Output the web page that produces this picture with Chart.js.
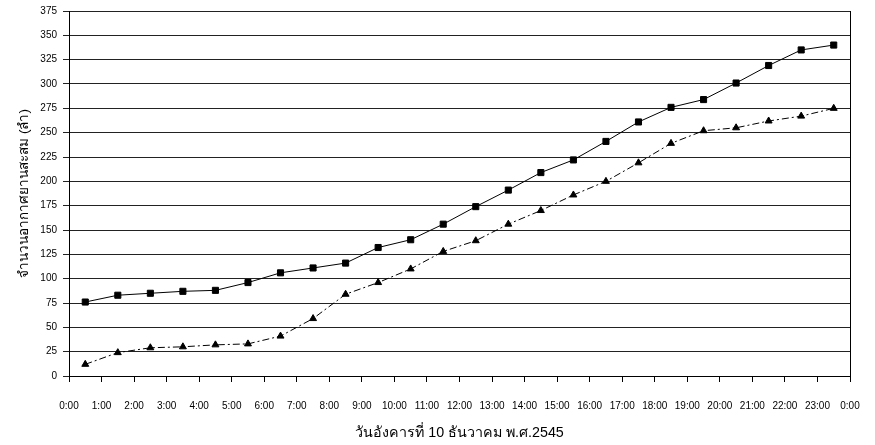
<!DOCTYPE html>
<html>
<head>
<meta charset="utf-8">
<script src="https://cdn.jsdelivr.net/npm/chart.js@4"></script>
<style>
  html, body { margin: 0; padding: 0; background: #fff; }
  #wrap { width: 875px; height: 445px; }
</style>
</head>
<body>
<div id="wrap"><canvas id="aircraftChart"></canvas></div>
<script>
// times of each observation (half-past each hour)
const times = ["0:30", "1:30", "2:30", "3:30", "4:30", "5:30", "6:30", "7:30", "8:30", "9:30", "10:30", "11:30",
               "12:30", "13:30", "14:30", "15:30", "16:30", "17:30", "18:30", "19:30", "20:30", "21:30", "22:30", "23:30"];
// cumulative aircraft counts
const seriesSquare = [76, 83, 85, 87, 88, 96, 106, 111, 116, 132, 140, 156, 174, 191, 209, 222, 241, 261, 276, 284, 301, 319, 335, 340];
const seriesTriangle = [12, 24, 29, 30, 32, 33, 41, 59, 84, 96, 110, 128, 139, 156, 170, 186, 200, 219, 239, 252, 255, 262, 267, 275];

const yTitle = "จำนวนอากาศยานสะสม (ลำ)";
const xTitle = "วันอังคารที่ 10 ธันวาคม พ.ศ.2545";

const toHours = t => {
  const [h, m] = t.split(":").map(Number);
  return h + m / 60;
};
const points = arr => arr.map((v, i) => ({ x: toHours(times[i]), y: v }));

const fontFamily = "'Liberation Sans', Arial, 'DejaVu Sans', sans-serif";

// border on the right of the plot area, like the original
const frame = {
  id: "frame",
  afterDraw(chart) {
    const { ctx, chartArea: a } = chart;
    ctx.save();
    ctx.strokeStyle = "#000";
    ctx.lineWidth = 1;
    ctx.beginPath();
    ctx.moveTo(Math.round(a.right) + 0.5, a.top);
    ctx.lineTo(Math.round(a.right) + 0.5, a.bottom);
    ctx.stroke();
    ctx.restore();
  }
};

new Chart(document.getElementById("aircraftChart"), {
  type: "line",
  data: {
    datasets: [
      {
        label: "square",
        data: points(seriesSquare),
        borderColor: "#000",
        backgroundColor: "#000",
        borderWidth: 1,
        pointStyle: "rect",
        pointRadius: 4.3,
        pointHoverRadius: 4.3,
        tension: 0
      },
      {
        label: "triangle",
        data: points(seriesTriangle),
        borderColor: "#000",
        backgroundColor: "#000",
        borderWidth: 1,
        borderDash: [7, 3, 2, 3],
        pointStyle: "triangle",
        pointRadius: 4,
        pointHoverRadius: 4,
        tension: 0
      }
    ]
  },
  options: {
    responsive: true,
    maintainAspectRatio: false,
    animation: false,
    layout: { padding: { top: 11, right: 25, left: 0, bottom: 0 } },
    plugins: {
      legend: { display: false },
      tooltip: { enabled: false }
    },
    scales: {
      x: {
        type: "linear",
        min: 0,
        max: 24,
        afterFit: s => { s.height = 69; s.paddingLeft = 0; s.paddingRight = 0; },
        border: { color: "#000", width: 1 },
        grid: { drawOnChartArea: false, drawTicks: true, tickLength: 6, color: "#000" },
        ticks: {
          stepSize: 1,
          padding: 18,
          maxRotation: 0,
          autoSkip: false,
          color: "#000",
          font: { family: fontFamily, size: 10 },
          callback: v => (v % 24) + ":00"
        },
        title: {
          display: true,
          text: xTitle,
          color: "#000",
          font: { family: fontFamily, size: 14.3 },
          padding: { top: 0, bottom: 3 }
        }
      },
      y: {
        min: 0,
        max: 375,
        afterFit: s => { s.width = 69; s.paddingTop = 0; s.paddingBottom = 0; },
        border: { color: "#000", width: 1 },
        grid: { color: "#222", tickLength: 6 },
        ticks: {
          stepSize: 25,
          padding: 6,
          color: "#000",
          font: { family: fontFamily, size: 10 }
        },
        title: {
          display: true,
          text: yTitle,
          color: "#000",
          font: { family: fontFamily, size: 13.5 },
          padding: { top: 16, bottom: 0 }
        }
      }
    }
  },
  plugins: [frame]
});
</script>
</body>
</html>
